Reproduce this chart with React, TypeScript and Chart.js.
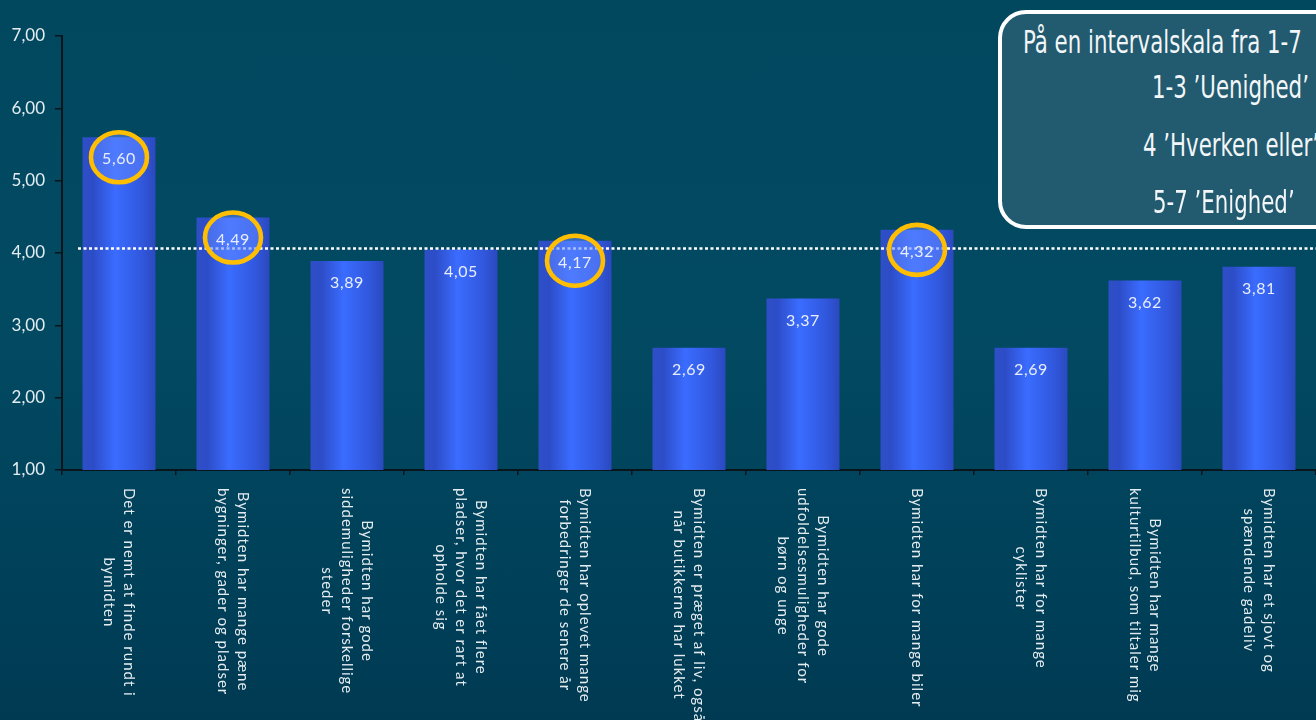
import React, { useEffect, useRef } from "react";
import { Chart, registerables } from "chart.js";

Chart.register(...registerables);

// ---- Data ----
const categories: string[][] = [
  ["Det er nemt at finde rundt i", "bymidten"],
  ["Bymidten har mange pæne", "bygninger, gader og pladser"],
  ["Bymidten har gode", "siddemuligheder forskellige", "steder"],
  ["Bymidten har fået flere", "pladser, hvor det er rart at", "opholde sig"],
  ["Bymidten har oplevet mange", "forbedringer de senere år"],
  ["Bymidten er præget af liv, også", "når butikkerne har lukket"],
  ["Bymidten har gode", "udfoldelsesmuligheder for", "børn og unge"],
  ["Bymidten har for mange biler"],
  ["Bymidten har for mange", "cyklister"],
  ["Bymidten har mange", "kulturtilbud, som tiltaler mig"],
  ["Bymidten har et sjovt og", "spændende gadeliv"],
];
const values: number[] = [5.6, 4.49, 3.89, 4.05, 4.17, 2.69, 3.37, 4.32, 2.69, 3.62, 3.81];
const highlighted: number[] = [0, 1, 4, 7];
const referenceLine = 4.07;
const yMin = 1;
const yMax = 7;
const yStep = 1;
const scaleNote: string[] = [
  "På en intervalskala fra 1-7",
  "1-3 ’Uenighed’",
  "4 ’Hverken eller’",
  "5-7 ’Enighed’",
];

// ---- Styles ----
const BAR_FRACTION = 0.64;
const AXIS_COLOR = "#0a151b";
const TEXT_COLOR = "#e4ecf0";
const FONT = "Lato, 'Open Sans', sans-serif";

const fmt = (v: number) => v.toFixed(2).replace(".", ",");

const overlayPlugin = {
  id: "overlay",
  afterDatasetsDraw(chart: any) {
    const { ctx, chartArea } = chart;
    const y = chart.scales.y;
    // reference dotted line
    ctx.save();
    ctx.strokeStyle = "#ffffff";
    ctx.lineWidth = 2.5;
    ctx.setLineDash([3, 2.5]);
    const ry = Math.round(y.getPixelForValue(referenceLine)) + 0.5;
    ctx.beginPath();
    ctx.moveTo(chartArea.left + 16, ry);
    ctx.lineTo(chartArea.right, ry);
    ctx.stroke();
    ctx.restore();

    const meta = chart.getDatasetMeta(0);
    meta.data.forEach((bar: any, i: number) => {
      const top = bar.y;
      const cx = bar.x;
      if (highlighted.includes(i)) {
        ctx.save();
        ctx.beginPath();
        ctx.ellipse(cx, top + 20, 28, 25, 0, 0, Math.PI * 2);
        ctx.fillStyle = "rgba(95,135,255,0.55)";
        ctx.fill();
        ctx.lineWidth = 4.6;
        ctx.strokeStyle = "#ffbf00";
        ctx.stroke();
        ctx.restore();
      }
      ctx.save();
      ctx.fillStyle = "#e8eeff";
      ctx.font = `16px ${FONT}`;
      (ctx as any).letterSpacing = "0.6px";
      ctx.textAlign = "center";
      ctx.textBaseline = "middle";
      ctx.fillText(fmt(values[i]), cx, top + 22);
      ctx.restore();
    });
  },
  afterDraw(chart: any) {
    const { ctx, chartArea } = chart;
    const x = chart.scales.x;
    const lineH = 20;
    categories.forEach((lines, i) => {
      const cx = x.getPixelForValue(i);
      ctx.save();
      ctx.font = `15px ${FONT}`;
      (ctx as any).letterSpacing = "1px";
      ctx.fillStyle = TEXT_COLOR;
      ctx.translate(cx, chartArea.bottom + 18);
      ctx.rotate(Math.PI / 2);
      const maxW = Math.max(...lines.map((l) => ctx.measureText(l).width));
      ctx.textAlign = "center";
      ctx.textBaseline = "middle";
      const n = lines.length;
      lines.forEach((l, j) => {
        ctx.fillText(l, maxW / 2, (j - (n - 1) / 2) * lineH);
      });
      ctx.restore();
    });
  },
};

export default function App() {
  const canvasRef = useRef<HTMLCanvasElement | null>(null);

  useEffect(() => {
    if (!canvasRef.current) return;
    const chart = new Chart(canvasRef.current, {
      type: "bar",
      data: {
        labels: categories.map((c) => c.join(" ")),
        datasets: [
          {
            data: values,
            barPercentage: BAR_FRACTION,
            categoryPercentage: 1,
            borderWidth: 0,
            backgroundColor: (c: any) => {
              const chart = c.chart;
              const xs = chart.scales?.x;
              if (!xs || c.dataIndex === undefined || !chart.chartArea) return "#3360e8";
              const center = xs.getPixelForValue(c.dataIndex);
              const w = (xs.width / categories.length) * BAR_FRACTION;
              const g = chart.ctx.createLinearGradient(center - w / 2, 0, center + w / 2, 0);
              g.addColorStop(0, "#2e4fc6");
              g.addColorStop(0.15, "#2d4dc8");
              g.addColorStop(0.45, "#3a6cff");
              g.addColorStop(0.8, "#3158de");
              g.addColorStop(1, "#2b49bf");
              return g;
            },
          },
        ],
      },
      options: {
        animation: false,
        responsive: true,
        maintainAspectRatio: false,
        layout: { padding: { top: 36, right: 0, left: 0, bottom: 0 } },
        plugins: {
          legend: { display: false },
          tooltip: { enabled: false },
          title: { display: false },
        },
        scales: {
          x: {
            type: "category",
            offset: true,
            grid: {
              display: true,
              drawOnChartArea: false,
              drawTicks: true,
              tickLength: 5,
              color: AXIS_COLOR,
              lineWidth: 1.5,
              offset: true,
            },
            border: { display: true, color: AXIS_COLOR, width: 2 },
            ticks: { display: false },
            afterFit: (s: any) => {
              s.height = 250;
            },
          },
          y: {
            min: yMin,
            max: yMax,
            grid: {
              display: true,
              drawOnChartArea: false,
              drawTicks: true,
              tickLength: 7,
              color: AXIS_COLOR,
              lineWidth: 1.5,
            },
            border: { display: true, color: AXIS_COLOR, width: 2 },
            ticks: {
              stepSize: yStep,
              color: TEXT_COLOR,
              font: { family: FONT, size: 17 },
              padding: 10,
              callback: (v: any) => fmt(Number(v)),
            },
            afterFit: (s: any) => {
              s.width = 62;
            },
          },
        },
      },
      plugins: [overlayPlugin],
    } as any);
    return () => chart.destroy();
  }, []);

  const noteLeft = [1023, 1152, 1143, 1153];
  const noteTop = [42, 87, 145, 202];

  return (
    <div
      style={{
        position: "fixed",
        left: 0,
        top: 0,
        width: 1316,
        height: 720,
        overflow: "hidden",
        background: "linear-gradient(180deg, #01485f 0%, #024a62 45%, #003f58 85%, #003a52 100%)",
      }}
    >
      <div style={{ position: "absolute", left: 0, top: 0, width: 1316, height: 720 }}>
        <canvas ref={canvasRef} />
      </div>
      <div
        style={{
          position: "absolute",
          left: 998,
          top: 10,
          width: 360,
          height: 219,
          boxSizing: "border-box",
          border: "4px solid #ffffff",
          borderRadius: 28,
          background: "#225a6f",
        }}
      />
      {scaleNote.map((t, i) => (
        <div
          key={i}
          style={{
            position: "absolute",
            left: noteLeft[i],
            top: noteTop[i],
            transform: "translateY(-50%) scaleX(0.74)",
            transformOrigin: "left center",
            whiteSpace: "nowrap",
            color: "#f2f6f8",
            fontFamily: "'Liberation Sans Narrow', 'DejaVu Sans Condensed', 'Liberation Sans', sans-serif",
            fontSize: 32,
            lineHeight: "36px",
          }}
        >
          {t}
        </div>
      ))}
    </div>
  );
}
